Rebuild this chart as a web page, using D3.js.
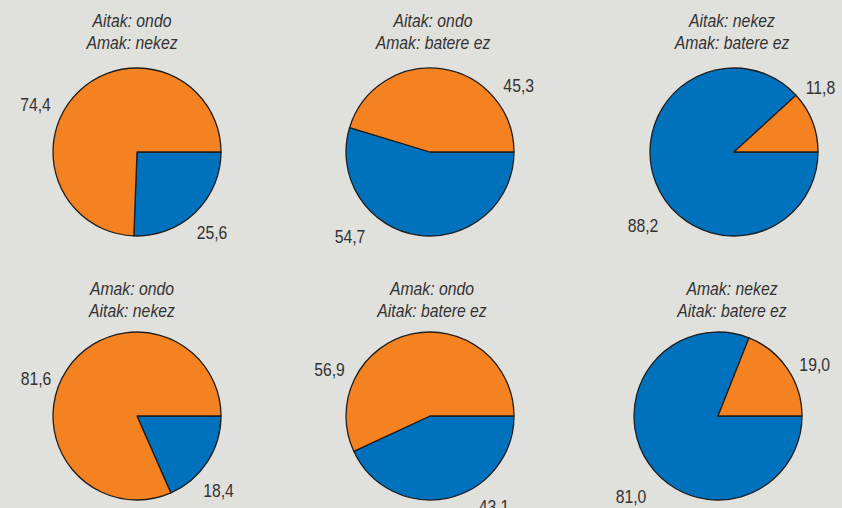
<!DOCTYPE html>
<html>
<head>
<meta charset="utf-8">
<script src="https://cdn.jsdelivr.net/npm/d3@7/dist/d3.min.js"></script>
<style>
  html, body { margin: 0; padding: 0; background: #e0e0dc; }
  svg { display: block; }
</style>
</head>
<body>
<svg id="chart" width="842" height="508"></svg>
<script>
// ---- data ----
const titlesTop = ["Aitak: ondo", "Aitak: ondo", "Aitak: nekez", "Amak: ondo", "Amak: ondo", "Amak: nekez"];
const titlesBottom = ["Amak: nekez", "Amak: batere ez", "Amak: batere ez", "Aitak: nekez", "Aitak: batere ez", "Aitak: batere ez"];
const blueValues = [25.6, 54.7, 88.2, 18.4, 43.1, 81.0];
const orangeValues = [74.4, 45.3, 11.8, 81.6, 56.9, 19.0];
const labelText = v => d3.format(".1f")(v).replace(".", ",");

// ---- layout (not data) ----
const W = 842, H = 508;
const radius = 84;
const pieCenters = [[137, 152], [430, 152], [734, 152], [137, 416], [430, 416], [718, 416]];
const titleX = [132, 433, 732, 132, 432, 732];
const titleY = [[27, 48.5], [27, 48.5], [27, 48.5], [294.5, 316.5], [294.5, 316.5], [294.5, 316.5]];
// label offsets from pie centre: [blue, orange] as [dx, dy(baseline)]
const labelOffsets = [
  [[75, 87], [-101.5, -41]],
  [[-80, 91], [88.7, -60.3]],
  [[-91, 80], [86.5, -57.7]],
  [[81.5, 80.7], [-101, -31]],
  [[64, 97], [-100.5, -40.3]],
  [[-87, 87], [96.7, -45]]
];
const colors = ["#0071bc", "#f58220"];
const sx = 0.83;

const svg = d3.select("#chart");
svg.append("rect").attr("width", W).attr("height", H).attr("fill", "#e0e0dc");

const pie = d3.pie().sort(null).value(d => d)
  .startAngle(Math.PI / 2).endAngle(Math.PI / 2 + 2 * Math.PI);
const arc = d3.arc().innerRadius(0).outerRadius(radius);

blueValues.forEach((bv, i) => {
  const vals = [bv, orangeValues[i]];
  const [cx, cy] = pieCenters[i];
  const g = svg.append("g").attr("transform", `translate(${cx},${cy})`);
  g.selectAll("path").data(pie(vals)).join("path")
    .attr("d", arc)
    .attr("fill", (d, j) => colors[j])
    .attr("stroke", "#1e1e1e")
    .attr("stroke-width", 1.3)
    .attr("stroke-linejoin", "round");

  vals.forEach((v, j) => {
    const [dx, dy] = labelOffsets[i][j];
    svg.append("g").attr("transform", `translate(${cx + dx},${cy + dy}) scale(${sx},1)`)
      .append("text")
      .attr("text-anchor", "middle")
      .attr("font-family", "'Liberation Sans', Arial, sans-serif")
      .attr("font-size", 19)
      .attr("fill", "#333")
      .text(labelText(v));
  });

  [titlesTop[i], titlesBottom[i]].forEach((t, k) => {
    svg.append("g").attr("transform", `translate(${titleX[i]},${titleY[i][k]}) scale(${sx},1)`)
      .append("text")
      .attr("text-anchor", "middle")
      .attr("font-family", "'Liberation Sans', Arial, sans-serif")
      .attr("font-style", "italic")
      .attr("font-size", 19)
      .attr("fill", "#333")
      .text(t);
  });
});
</script>
</body>
</html>
